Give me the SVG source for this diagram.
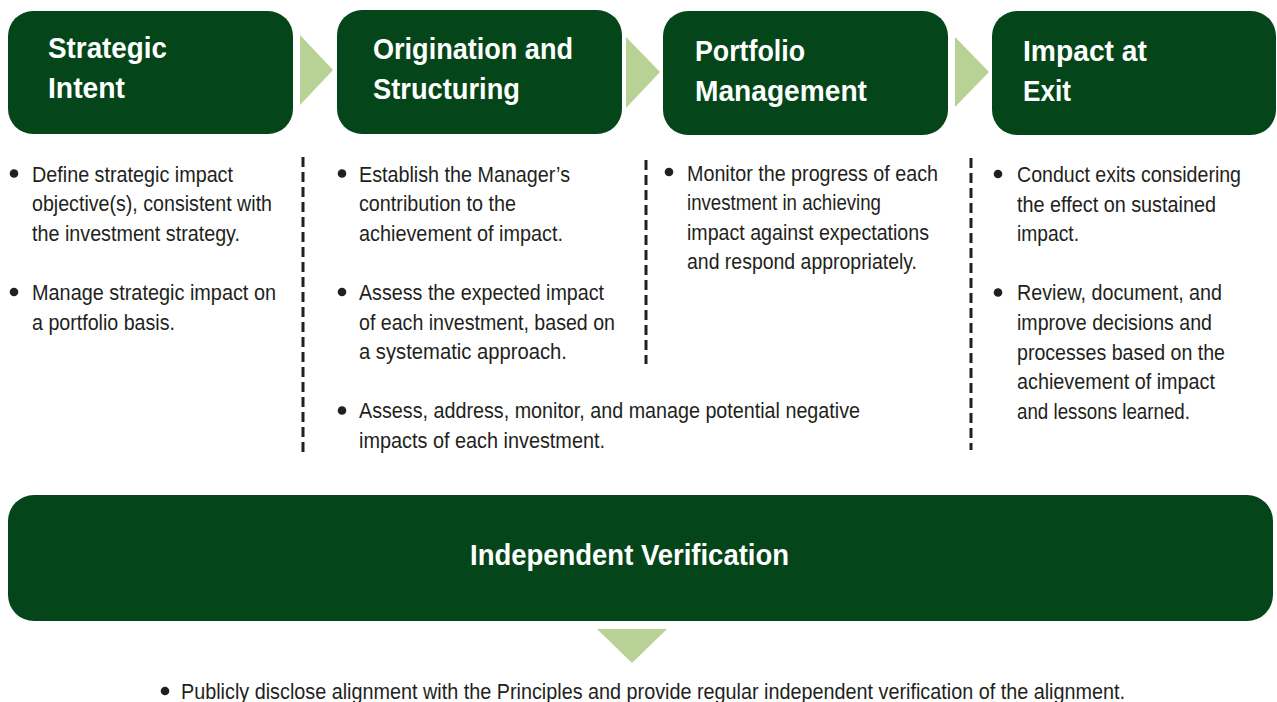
<svg xmlns="http://www.w3.org/2000/svg" width="1277" height="702" viewBox="0 0 1277 702">
  <style>
    .box { fill: #044619; }
    .flow { fill: #B8D195; }
    .title { font-family: 'Liberation Sans Narrow', 'Liberation Sans', Arial, sans-serif; font-weight: bold; font-size: 30px; fill: #ffffff; }
    .body { font-family: 'Liberation Sans Narrow', 'Liberation Sans', Arial, sans-serif; font-size: 22px; fill: #231f20; }
    .dot { fill: #231f20; }
    .sep { stroke: #231f20; stroke-width: 3; stroke-dasharray: 10 5; fill: none; }
  </style>
  <rect width="1277" height="702" fill="#ffffff"/>

  <!-- stage 1 -->
  <g id="strategic-intent">
    <rect class="box" x="8" y="11" width="285" height="123" rx="25"/>
    <text class="title" x="48" y="58" textLength="119" lengthAdjust="spacingAndGlyphs">Strategic</text>
    <text class="title" x="48" y="98" textLength="77" lengthAdjust="spacingAndGlyphs">Intent</text>
    <circle class="dot" cx="14" cy="173.5" r="4.3"/>
    <text class="body" x="32" y="181.5" textLength="201" lengthAdjust="spacingAndGlyphs">Define strategic impact</text>
    <text class="body" x="32" y="211.1" textLength="240" lengthAdjust="spacingAndGlyphs">objective(s), consistent with</text>
    <text class="body" x="32" y="240.7" textLength="208" lengthAdjust="spacingAndGlyphs">the investment strategy.</text>
    <circle class="dot" cx="14" cy="292" r="4.3"/>
    <text class="body" x="32" y="299.9" textLength="244" lengthAdjust="spacingAndGlyphs">Manage strategic impact on</text>
    <text class="body" x="32" y="329.5" textLength="143" lengthAdjust="spacingAndGlyphs">a portfolio basis.</text>
  </g>

  <!-- stage 2 -->
  <g id="origination-structuring">
    <rect class="box" x="337" y="10" width="285" height="124" rx="25"/>
    <text class="title" x="373" y="59" textLength="200" lengthAdjust="spacingAndGlyphs">Origination and</text>
    <text class="title" x="373" y="99" textLength="147" lengthAdjust="spacingAndGlyphs">Structuring</text>
    <circle class="dot" cx="342" cy="173.5" r="4.3"/>
    <text class="body" x="359" y="181.5" textLength="211" lengthAdjust="spacingAndGlyphs">Establish the Manager’s</text>
    <text class="body" x="359" y="211.1" textLength="157" lengthAdjust="spacingAndGlyphs">contribution to the</text>
    <text class="body" x="359" y="240.7" textLength="204" lengthAdjust="spacingAndGlyphs">achievement of impact.</text>
    <circle class="dot" cx="342" cy="292" r="4.3"/>
    <text class="body" x="359" y="299.9" textLength="245" lengthAdjust="spacingAndGlyphs">Assess the expected impact</text>
    <text class="body" x="359" y="329.5" textLength="256" lengthAdjust="spacingAndGlyphs">of each investment, based on</text>
    <text class="body" x="359" y="359.1" textLength="208" lengthAdjust="spacingAndGlyphs">a systematic approach.</text>
    <circle class="dot" cx="342" cy="410.5" r="4.3"/>
    <text class="body" x="359" y="418.3" textLength="501" lengthAdjust="spacingAndGlyphs">Assess, address, monitor, and manage potential negative</text>
    <text class="body" x="359" y="447.9" textLength="246" lengthAdjust="spacingAndGlyphs">impacts of each investment.</text>
  </g>

  <!-- stage 3 -->
  <g id="portfolio-management">
    <rect class="box" x="663" y="11" width="285" height="124" rx="25"/>
    <text class="title" x="695" y="61" textLength="110" lengthAdjust="spacingAndGlyphs">Portfolio</text>
    <text class="title" x="695" y="101" textLength="172" lengthAdjust="spacingAndGlyphs">Management</text>
    <circle class="dot" cx="669" cy="172" r="4.3"/>
    <text class="body" x="687" y="180.5" textLength="251" lengthAdjust="spacingAndGlyphs">Monitor the progress of each</text>
    <text class="body" x="687" y="210.1" textLength="194" lengthAdjust="spacingAndGlyphs">investment in achieving</text>
    <text class="body" x="687" y="239.7" textLength="242" lengthAdjust="spacingAndGlyphs">impact against expectations</text>
    <text class="body" x="687" y="269.3" textLength="230" lengthAdjust="spacingAndGlyphs">and respond appropriately.</text>
  </g>

  <!-- stage 4 -->
  <g id="impact-at-exit">
    <rect class="box" x="992" y="11" width="284" height="124" rx="25"/>
    <text class="title" x="1023" y="61" textLength="124" lengthAdjust="spacingAndGlyphs">Impact at</text>
    <text class="title" x="1023" y="101" textLength="48" lengthAdjust="spacingAndGlyphs">Exit</text>
    <circle class="dot" cx="998" cy="174" r="4.3"/>
    <text class="body" x="1017" y="182" textLength="224" lengthAdjust="spacingAndGlyphs">Conduct exits considering</text>
    <text class="body" x="1017" y="211.6" textLength="199" lengthAdjust="spacingAndGlyphs">the effect on sustained</text>
    <text class="body" x="1017" y="241.2" textLength="62" lengthAdjust="spacingAndGlyphs">impact.</text>
    <circle class="dot" cx="998" cy="292.5" r="4.3"/>
    <text class="body" x="1017" y="300.4" textLength="205" lengthAdjust="spacingAndGlyphs">Review, document, and</text>
    <text class="body" x="1017" y="330" textLength="195" lengthAdjust="spacingAndGlyphs">improve decisions and</text>
    <text class="body" x="1017" y="359.6" textLength="208" lengthAdjust="spacingAndGlyphs">processes based on the</text>
    <text class="body" x="1017" y="389.2" textLength="198" lengthAdjust="spacingAndGlyphs">achievement of impact</text>
    <text class="body" x="1017" y="418.8" textLength="173" lengthAdjust="spacingAndGlyphs">and lessons learned.</text>
  </g>

  <!-- verification bar -->
  <g id="independent-verification">
    <rect class="box" x="8" y="495" width="1265" height="126" rx="26"/>
    <text class="title" x="470" y="565" font-size="31" textLength="319" lengthAdjust="spacingAndGlyphs">Independent Verification</text>
    <circle class="dot" cx="165" cy="691" r="4.3"/>
    <text class="body" x="181" y="698.5" textLength="944" lengthAdjust="spacingAndGlyphs">Publicly disclose alignment with the Principles and provide regular independent verification of the alignment.</text>
  </g>

  <!-- dashed column separators -->
  <g id="separators">
    <line class="sep" x1="303" y1="157" x2="303" y2="452"/>
    <line class="sep" x1="646" y1="160" x2="646" y2="364"/>
    <line class="sep" x1="971" y1="158" x2="971" y2="450"/>
  </g>

  <!-- flow arrows between stages -->
  <g id="connectors">
    <polygon class="flow" points="300,35 333,70 300,105"/>
    <polygon class="flow" points="626,37 660,72 626,108"/>
    <polygon class="flow" points="955,37 989,72 955,107"/>
    <polygon class="flow" points="597,629 667,629 632,663"/>
  </g>
</svg>
